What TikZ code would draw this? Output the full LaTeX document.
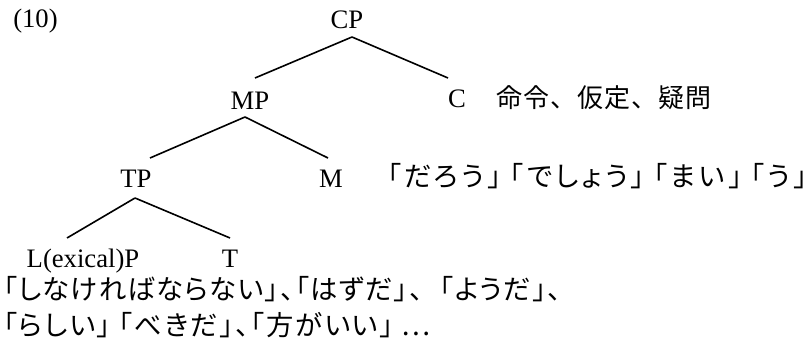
\documentclass[tikz,border=0pt]{standalone}
\usepackage{fontspec}
\setmainfont{Liberation Serif}
\newfontfamily\jp{Noto Sans CJK JP}
\newfontfamily\jpp[RawFeature=+palt]{Noto Sans CJK JP}
\begin{document}
\begin{tikzpicture}[x=0.75pt,y=-0.75pt,
  lab/.style={anchor=base,inner sep=0pt,font=\fontsize{20pt}{24pt}\selectfont},
  jtxt/.style={anchor=base west,inner sep=0pt,font=\fontsize{19.5pt}{24pt}\selectfont\jp},
  jptxt/.style={anchor=base west,inner sep=0pt,font=\fontsize{20.5pt}{24pt}\selectfont\jpp},
  branch/.style={line width=1.2pt}]
\useasboundingbox (0,0) rectangle (810,352);
\node[lab,anchor=base west] (num) at (13,28) {(10)};
\node[lab] (CP) at (347,29) {CP};
\node[lab] (MP) at (250,110) {MP};
\node[lab] (C) at (457,108) {C};
\node[lab] (TP) at (136,188) {TP};
\node[lab] (M) at (331,188) {M};
\node[lab] (LP) at (83,268) {L(exical)P};
\node[lab] (T) at (230,268) {T};
\node[jtxt] (cgloss) at (496,108) {命\kern.04em 令\kern.04em 、\kern.04em 仮\kern.04em 定\kern.04em 、\kern.04em 疑\kern.04em 問};
\node[jptxt] (mgloss) at (387,187) {\addfontfeature{LetterSpace=13}「だろう」\kern.3em「でしょう」\kern.3em「まい」\kern.3em「う」};
\node[jptxt] (tgloss1) at (3,300) {\addfontfeature{LetterSpace=5}「しなければならない」、「はずだ」、\kern.6em「ようだ」、};
\node[jptxt] (tgloss2) at (3,336) {\addfontfeature{LetterSpace=7}「らしい」\kern.3em「べきだ」、「方がいい」\kern.3em…};
\draw[branch] ([shift={(5,8)}]CP.base) -- ([shift={(5,-32)}]MP.base);
\draw[branch] ([shift={(5,8)}]CP.base) -- ([shift={(-9,-30)}]C.base);
\draw[branch] ([shift={(-5,7)}]MP.base) -- ([shift={(14,-30)}]TP.base);
\draw[branch] ([shift={(-5,7)}]MP.base) -- ([shift={(-3,-30)}]M.base);
\draw[branch] ([shift={(-1,10)}]TP.base) -- ([shift={(-16,-30)}]LP.base);
\draw[branch] ([shift={(-1,10)}]TP.base) -- ([shift={(0,-30)}]T.base);
\end{tikzpicture}
\end{document}
